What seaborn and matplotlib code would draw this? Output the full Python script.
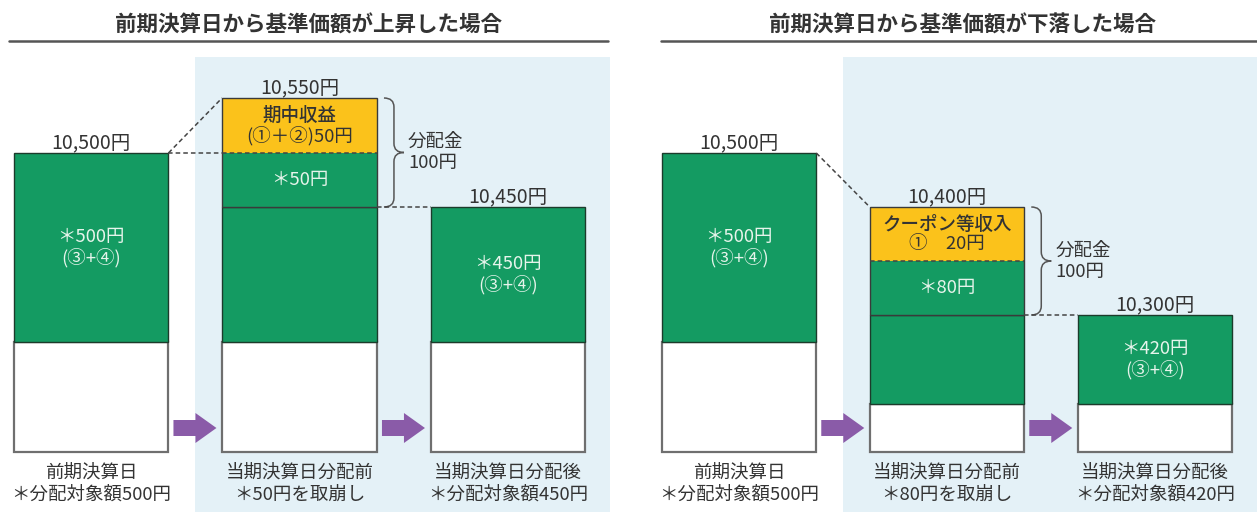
import matplotlib
matplotlib.use("Agg")
import matplotlib.pyplot as plt
import numpy as np
import pandas as pd
import seaborn as sns
from matplotlib.patches import FancyArrow, PathPatch, Rectangle
from matplotlib.path import Path

"""
Schematic of distribution vs. base price (two cases), drawn as stacked bars.
Block heights are schematic (as in the original picture), labels carry the yen values.
"""

STAGES = ["前期決算日", "当期決算日分配前", "当期決算日分配後"]

# case 1: base price went up
UP_TITLE = "前期決算日から基準価額が上昇した場合"
UP_BASE = [110, 110, 110]       # white block (principal part)
UP_KEPT = [189, 135, 135]       # green block (distributable, kept)
UP_DRAW = [0, 54, 0]            # green block taken out for distribution
UP_INCOME = [0, 55, 0]          # yellow block (income of the period)
UP_PRICE = ["10,500円", "10,550円", "10,450円"]
UP_KEPT_TEXT = [["＊500円", "(③+④)"], [], ["＊450円", "(③+④)"]]
UP_DRAW_TEXT = ["＊50円"]
UP_INCOME_TEXT = ["期中収益", "(①＋②)50円"]
UP_SUB = ["＊分配対象額500円", "＊50円を取崩し", "＊分配対象額450円"]

# case 2: base price went down
DOWN_TITLE = "前期決算日から基準価額が下落した場合"
DOWN_BASE = [110, 48, 48]
DOWN_KEPT = [189, 89, 89]
DOWN_DRAW = [0, 54, 0]
DOWN_INCOME = [0, 54, 0]
DOWN_PRICE = ["10,500円", "10,400円", "10,300円"]
DOWN_KEPT_TEXT = [["＊500円", "(③+④)"], [], ["＊420円", "(③+④)"]]
DOWN_DRAW_TEXT = ["＊80円"]
DOWN_INCOME_TEXT = ["クーポン等収入", "①　20円"]
DOWN_SUB = ["＊分配対象額500円", "＊80円を取崩し", "＊分配対象額420円"]

DIST_TEXT = ["分配金", "100円"]

GREEN = "#149b62"
YELLOW = "#fbc21b"
PURPLE = "#8a5ba8"
LIGHT_BLUE = "#e4f1f7"
DARK = "#333333"
INNER = "#e6f4eb"
BAR_W = 0.743
FIG_W, FIG_H = 1257, 512
FS = 13.3


def brace(ax, x0, y_top, y_bot, dx, r):
    ym = (y_top + y_bot) / 2
    xm = x0 + dx / 2
    xr = x0 + dx
    verts = [(x0, y_top), (xm, y_top), (xm, y_top - r),
             (xm, ym + r), (xm, ym), (xr, ym),
             (xm, ym), (xm, ym - r),
             (xm, y_bot + r), (xm, y_bot), (x0, y_bot)]
    codes = [Path.MOVETO, Path.CURVE3, Path.CURVE3,
             Path.LINETO, Path.CURVE3, Path.CURVE3,
             Path.CURVE3, Path.CURVE3,
             Path.LINETO, Path.CURVE3, Path.CURVE3]
    ax.add_patch(PathPatch(Path(verts, codes), fill=False, edgecolor="#555555", lw=1.1))


def draw_panel(ax, ax_px, rule_px, title_px, px_center0, px_step, title, base, kept, draw, income,
               price, kept_text, draw_text, income_text, sub):
    df = pd.DataFrame({"stage": STAGES, "base": base, "kept": kept, "draw": draw, "income": income})
    df["kept_bottom"] = df["base"]
    df["draw_bottom"] = df["base"] + df["kept"]
    df["income_bottom"] = df["draw_bottom"] + df["draw"]
    df["top"] = df["income_bottom"] + df["income"]
    df["outline"] = df["draw"] + df["income"]
    common = dict(x="stage", order=STAGES, width=BAR_W, saturation=1, errorbar=None, ax=ax)

    # px -> data
    def dx(px):
        return (px - px_center0) / px_step

    half = BAR_W / 2
    ax.add_patch(Rectangle((0.5, -60), 1.99, 455, facecolor=LIGHT_BLUE, edgecolor="none", zorder=0))

    sns.barplot(data=df, y="base", color="white", edgecolor="#6f6f6f", linewidth=1.6, zorder=2, **common)
    sns.barplot(data=df, y="kept", bottom=df["kept_bottom"].values, color=GREEN,
                edgecolor="#1c3b2b", linewidth=1.0, zorder=2, **common)
    sub_df = df[df["draw"] > 0]
    sns.barplot(data=sub_df, y="draw", bottom=sub_df["draw_bottom"].values, color=GREEN,
                linewidth=0, zorder=2, **common)
    sns.barplot(data=sub_df, y="income", bottom=sub_df["income_bottom"].values, color=YELLOW,
                linewidth=0, zorder=2, **common)
    sns.barplot(data=sub_df, y="outline", bottom=sub_df["draw_bottom"].values, color="#3a3a3a",
                fill=False, linewidth=1.0, zorder=3, **common)

    dash = dict(color="#444444", lw=1.1, linestyle=(0, (3, 2)), zorder=3)
    tops = df["top"].values
    for i, row in sub_df.iterrows():
        # dashed boundary income / drawdown
        ax.plot([i - half, i + half], [row["income_bottom"]] * 2, **dash)
        mid = (row["top"] + row["draw_bottom"]) / 2
        brace(ax, i + half + 7 / px_step, row["top"], row["draw_bottom"], 20 / px_step, 9)
        ax.text(i + half + 31 / px_step, mid + 10.5, DIST_TEXT[0], ha="left", va="center",
                fontsize=FS, color=DARK)
        ax.text(i + half + 31 / px_step, mid - 10.5, DIST_TEXT[1], ha="left", va="center",
                fontsize=FS, color=DARK)
        inc_mid = (row["income_bottom"] + row["top"]) / 2
        ax.text(i, inc_mid + 10, income_text[0], ha="center", va="center", fontsize=FS,
                color=DARK, fontweight="medium", zorder=4)
        ax.text(i, inc_mid - 10, income_text[1], ha="center", va="center", fontsize=FS,
                color=DARK, zorder=4)
        ax.text(i, (row["draw_bottom"] + row["income_bottom"]) / 2, draw_text[0], ha="center",
                va="center", fontsize=FS, color=INNER, zorder=4)
    # connectors
    ax.plot([0 + half, 1 - half], [tops[0], tops[1]], **dash)
    if tops[1] > tops[0]:
        ax.plot([0 + half, 1 - half], [tops[0], tops[0]], **dash)
    ax.plot([1 + half, 2 - half], [tops[2], tops[2]], **dash)

    for i in range(3):
        ax.text(i, tops[i] + 10, price[i], ha="center", va="center", fontsize=14, color=DARK)
        lines = kept_text[i]
        if lines:
            mid = df["kept_bottom"][i] + df["kept"][i] / 2
            ax.text(i, mid + 10.5, lines[0], ha="center", va="center", fontsize=FS, color=INNER, zorder=4)
            ax.text(i, mid - 10.5, lines[1], ha="center", va="center", fontsize=FS, color=INNER, zorder=4)
        ax.text(i, -21, STAGES[i], ha="center", va="center", fontsize=FS, color=DARK)
        ax.text(i, -43, sub[i], ha="center", va="center", fontsize=FS, color=DARK)

    for i in range(2):
        ax.add_patch(FancyArrow(i + half + 5 / px_step, 24, 43 / px_step, 0, width=16, head_width=30,
                                head_length=21 / px_step, length_includes_head=True,
                                color=PURPLE, lw=0, zorder=3))

    # title and rule
    ax.text(dx(title_px), 452 - 25, title, ha="center", va="center",
            fontsize=15.5, fontweight="bold", color=DARK)
    ax.plot([dx(rule_px[0]), dx(rule_px[1])], [452 - 41, 452 - 41], color="#555555", lw=1.8)

    ax.set_xlim(dx(ax_px[0]), dx(ax_px[1]))
    ax.set_ylim(452 - FIG_H, 452)
    ax.axis("off")


sns.set_style("white")
plt.rcParams["font.family"] = ["Noto Sans CJK JP", "DejaVu Sans"]

fig = plt.figure(figsize=(FIG_W / 100, FIG_H / 100), dpi=100)
ax1 = fig.add_axes([0, 0, 628 / FIG_W, 1])
ax2 = fig.add_axes([628 / FIG_W, 0, (FIG_W - 628) / FIG_W, 1])

draw_panel(ax1, (0, 628), (9, 608), 308, 91, 208.5, UP_TITLE, UP_BASE, UP_KEPT, UP_DRAW, UP_INCOME,
           UP_PRICE, UP_KEPT_TEXT, UP_DRAW_TEXT, UP_INCOME_TEXT, UP_SUB)
draw_panel(ax2, (628, 1257), (661, 1257), 962, 739, 208, DOWN_TITLE, DOWN_BASE, DOWN_KEPT, DOWN_DRAW,
           DOWN_INCOME, DOWN_PRICE, DOWN_KEPT_TEXT, DOWN_DRAW_TEXT, DOWN_INCOME_TEXT, DOWN_SUB)

fig.savefig("out.png", dpi=100)
